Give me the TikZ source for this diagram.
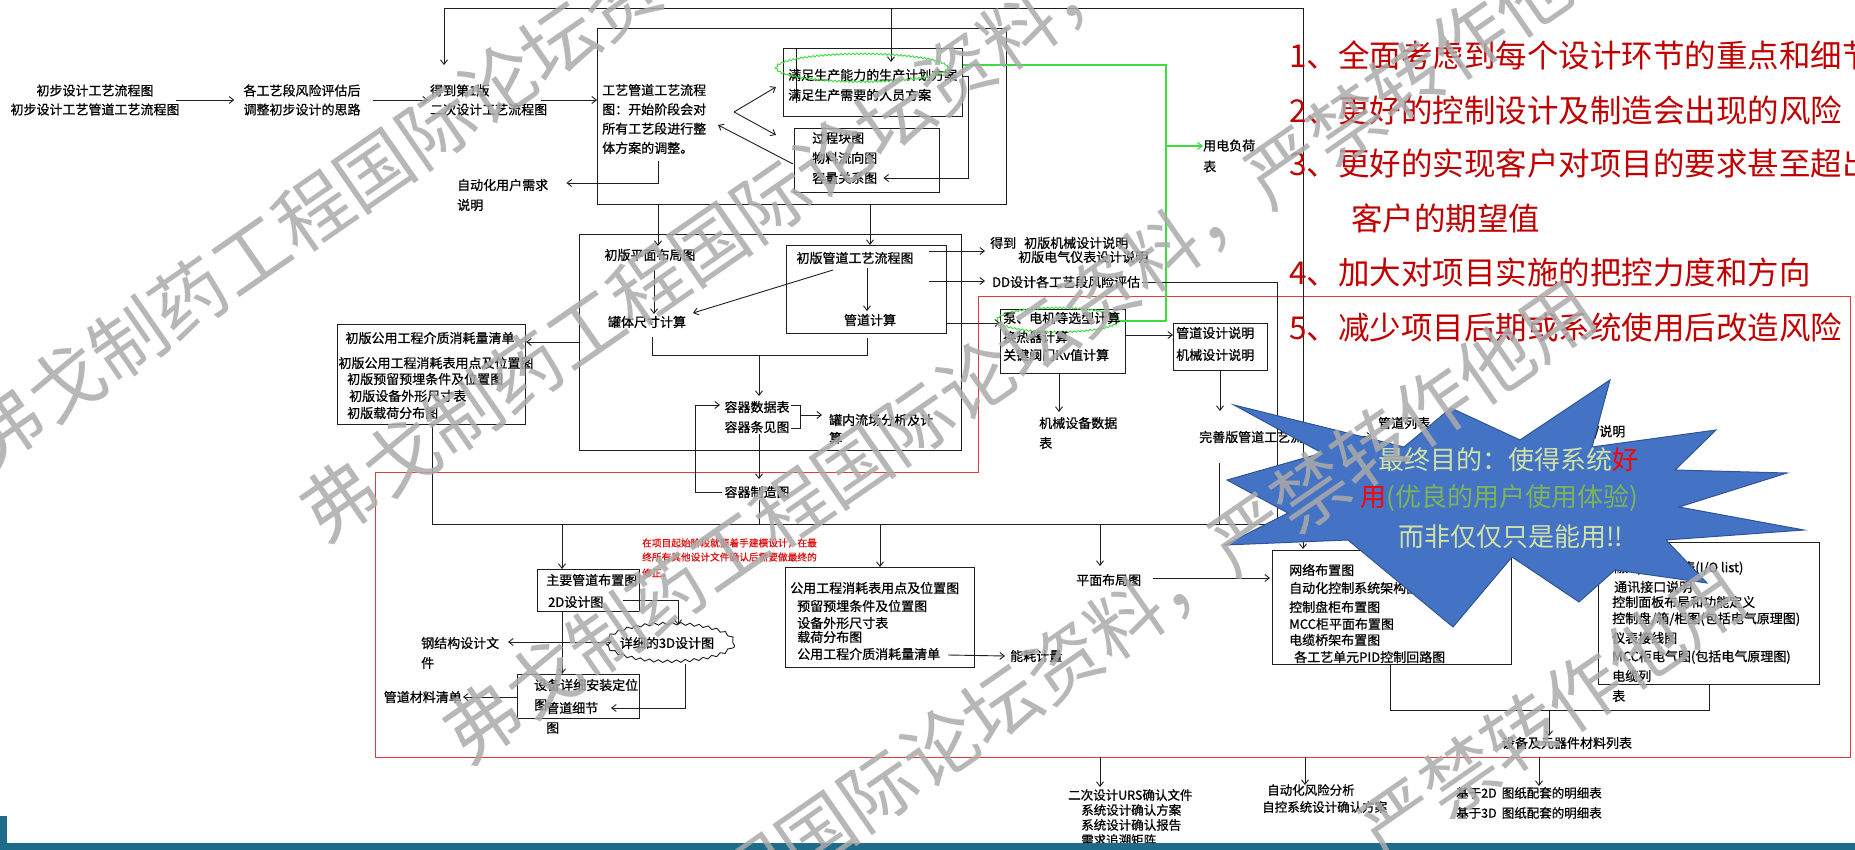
\documentclass[tikz,border=0pt]{standalone}
\usepackage{fontspec}
\setmainfont{Noto Sans CJK SC}
\newfontfamily\cjkb[FakeBold=0.7]{Noto Sans CJK SC}
\usetikzlibrary{arrows.meta,decorations.pathmorphing,shapes.geometric,calc}
\definecolor{lncol}{HTML}{1E1E1E}
\definecolor{redlist}{HTML}{C00000}
\definecolor{redbox}{HTML}{E53935}
\definecolor{rednote}{HTML}{E01010}
\definecolor{grn}{HTML}{3EDC3E}
\definecolor{starfill}{HTML}{4472C4}
\definecolor{starline}{HTML}{2F5597}
\definecolor{startxt}{HTML}{CFE2A6}
\definecolor{stargrn}{HTML}{7DB458}
\definecolor{wmcol}{HTML}{ABABAB}
\definecolor{barcol}{HTML}{1D6D8A}
\newcommand{\fs}{\cjkb\fontsize{13}{19}\selectfont}
\newcommand{\fsb}[1]{\cjkb\fontsize{13}{#1}\selectfont}
\tikzset{
 ln/.style={draw=lncol,line width=0.9pt},
 arr/.style={ln,-{Straight Barb[length=4.5pt,width=7pt]}},
 darr/.style={ln,{Straight Barb[length=4.5pt,width=7pt]}-{Straight Barb[length=4.5pt,width=7pt]}},
 bx/.style={draw=lncol,line width=1.1pt,inner sep=0pt,anchor=north west},
 tx/.style={font=\fs,inner sep=0pt,anchor=west},
 txc/.style={font=\fs,inner sep=0pt,anchor=center},
 gline/.style={draw=grn,line width=1.1pt},
 gcloud/.style={ellipse,draw=grn,line width=0.9pt,inner sep=0pt,decorate,decoration={snake,amplitude=0.8pt,segment length=4pt}},
 bcloud/.style={ellipse,draw=lncol,line width=0.9pt,inner sep=0pt,decorate,decoration={snake,amplitude=1.3pt,segment length=9pt}},
 redl/.style={font=\fontsize{31.5}{38}\selectfont,text=redlist,inner sep=0pt,anchor=west},
 notetx/.style={font=\cjkb\fontsize{9.7}{12}\selectfont,text=rednote,inner sep=0pt,anchor=west},
 wmk/.style={font=\fontsize{75}{75}\selectfont,text=wmcol,opacity=0.85,inner sep=0pt,anchor=center,rotate=34.7},
 sttx/.style={font=\fontsize{26}{30}\selectfont,inner sep=0pt,anchor=west},
}
\begin{document}
\begin{tikzpicture}[x=1pt,y=-1pt]
\useasboundingbox (0,0) rectangle (1855,850);
\clip (0,0) rectangle (1855,850);
\fill[white] (0,0) rectangle (1855,850);

% ---------- boxes ----------
\node[bx,minimum width=409pt,minimum height=176pt] (b1) at (597,28) {};
\node[bx,minimum width=179pt,minimum height=68pt] (s1) at (783,48) {};
\node[bx,minimum width=145pt,minimum height=64pt] (s2) at (794,128) {};
\node[bx,minimum width=382pt,minimum height=216pt] (b2) at (579,234) {};
\node[bx,minimum width=160pt,minimum height=88pt] (s3) at (786,245) {};
\node[bx,minimum width=188pt,minimum height=100pt] (b3) at (337,324) {};
\node[bx,minimum width=125pt,minimum height=64pt] (s4) at (1000,309) {};
\node[bx,minimum width=94pt,minimum height=47pt] (s5) at (1173,323) {};
\node[bx,minimum width=102pt,minimum height=42pt] (m) at (537,569) {};
\node[bx,minimum width=122pt,minimum height=44pt] (d) at (517,674) {};
\node[bx,minimum width=189pt,minimum height=100pt] (u) at (785,567) {};
\node[bx,minimum width=239pt,minimum height=114pt] (n) at (1272,550) {};
\node[bx,minimum width=221pt,minimum height=142pt] (r) at (1598,542) {};

% red frame
\draw[draw=redbox,line width=1pt] (375,472) -- (978,472) -- (978,297) -- (1850,297) -- (1850,757) -- (375,757) -- cycle;

% ---------- top row ----------
\node[txc,align=center] (t1) at (95,100) {初步设计工艺流程图\\初步设计工艺管道工艺流程图};
\node[txc,align=center] (t2) at (302,100) {各工艺段风险评估后\\调整初步设计的思路};
\node[tx,align=left] (t3) at (430,100) {得到第1版\\二次设计工艺流程图};
\draw[arr] ([xshift=-4pt]t1.east) -- ([xshift=-9pt]t2.west);
\draw[arr] ([xshift=12pt]t2.east) -- ([xshift=-2pt]t3.west);
\draw[arr] ([xshift=-6pt]t3.east) -- (b1.west |- t3);

% frame line
\coordinate (f1) at (444,8);
\coordinate (f2) at (1303,8);
\coordinate (f3) at (891,8);
\draw[ln] (f1) -- (f2);
\draw[arr] (f1) -- ++(0,57);
\draw[arr] (f3) -- ++(0,54);
\draw[arr,shorten >=1pt] (f2) -- (f2 |- n.north);

% ---------- B1 contents ----------
\node[tx,align=left,font=\fsb{19.3}] (tb1) at (602,119) {工艺管道工艺流程\\图：开始阶段会对\\所有工艺段进行整\\体方案的调整。};
\node[tx,align=left,font=\fsb{20}] (ta) at (457,195) {自动化用户需求\\说明};
\coordinate (k1) at (658,161);
\draw[arr] (k1) |- ([xshift=18pt]ta.east |- 0,183);
\coordinate (v) at (734,112);
\draw[arr] (v) -- (776,87);
\draw[arr] (v) -- (776,135);
\draw[arr] (793,164) -- (718,125);
\draw[ln] (796,48) -- (796,103);
\node[tx] (s1a) at (788,75) {满足生产能力的生产计划方案};
\node[tx] (s1b) at (788,95) {满足生产需要的人员方案};
\node[gcloud,minimum width=172pt,minimum height=28pt] (c1) at (862,69) {};
\node[tx,align=left,font=\fsb{20}] (s2t) at (812,158) {过程块图\\物料流向图\\容量关系图};
\draw[arr] (s1.east |- 0,76) -- (968,76) -- (968,178) -- ([xshift=6pt]s2t.east |- 0,178);

% green lines
\node[tx,align=left,font=\fsb{21}] (yd) at (1203,156) {用电负荷\\表};
\node[gcloud,minimum width=122pt,minimum height=24pt] (c4) at (1058,321) {};
\draw[gline] (s1.east |- 0,65) -- (1166,65) -- (1166,321) -- (c4.east);
\draw[gline,-{Straight Barb[length=4.5pt,width=7pt]}] (1166,146) -- (yd.west |- 0,146);

% B1 -> B2
\draw[arr] (658,204) -- (658,246);
\draw[arr] (870,204) -- (870,245);

% ---------- B2 contents ----------
\node[txc] (pm) at (650,255) {初版平面布局图};
\node[txc] (gt) at (647,322) {罐体尺寸计算};
\node[txc] (s3a) at (855,258) {初版管道工艺流程图};
\node[txc] (s3b) at (870,320) {管道计算};
\draw[arr] (654,270) -- (654,314);
\draw[arr] (867,268) -- (867,311);
\draw[arr] (833,270) -- (693,313);
\draw[ln] (652,337) -- (652,355) -- (867,355) -- (867,338);
\draw[arr] (759,355) -- (759,396);
\node[txc] (rq1) at (757,407) {容器数据表};
\node[txc] (rq2) at (757,427) {容器条见图};
\draw[ln] (791,405) -- (800,405) -- (800,428) -- (791,428);
\draw[arr] (800,415) -- (822,415);
\node[tx,align=left,font=\fsb{18}] (gl) at (829,429) {罐内流场分析及计\\算};
\draw[arr] (759,434) -- (759,479);
\node[txc] (zz) at (757,492) {容器制造图};
\draw[arr] (722,492) -- (695,492) -- (695,405) -- (720,405);
\draw[ln] (759,500) -- (759,524);
\draw[arr] (b2.west |- 0,342) -- (b3.east |- 0,342);

% B3 text
\node[txc] (b3a) at (430,338) {初版公用工程介质消耗量清单};
\node[txc] (b3b) at (436,363) {初版公用工程消耗表用点及位置图};
\node[tx] (b3c) at (347,379) {初版预留预埋条件及位置图};
\node[tx] (b3d) at (349,396) {初版设备外形尺寸表};
\node[tx] (b3e) at (347,413) {初版载荷分布图};

% S3 outputs
\node[tx] (jx1) at (990,243) {得到\hspace{8pt}初版机械设计说明};
\node[tx] (jx2) at (1018,257) {初版电气仪表设计说明};
\node[tx] (dd) at (992,282) {DD设计各工艺段风险评估};
\draw[arr] (929,251) -- (985,251);
\draw[arr] (929,281) -- (985,281);
\draw[arr] (s3.east |- 0,323) -- (s4.west |- 0,323);
\draw[ln] ([xshift=2pt]dd.east) -- (1277,282) -- (1277,524) -- (432,524) -- (b3.south -| 432,0);

% S4 / S5
\node[tx] (s4a) at (1003,318) {泵、电机等选型计算};
\node[tx] (s4b) at (1003,337) {换热器计算};
\node[tx] (s4c) at (1003,355) {关键阀门Kv值计算};
\node[tx] (s5a) at (1176,333) {管道设计说明};
\node[tx] (s5b) at (1176,355) {机械设计说明};
\draw[arr] (s4.east |- 0,335) -- (s5.west |- 0,335);
\draw[arr] (s4.south -| 1059,0) -- (1059,412);
\node[tx,align=left,font=\fsb{20}] (jxsb) at (1039,433) {机械设备数据\\表};
\draw[arr] (s5.south -| 1220,0) -- (1220,411);
\node[tx] (wsb) at (1199,437) {完善版管道工艺流程图};
\draw[ln] (1219,463) -- (1219,524);
\node[tx] (gdlb) at (1378,423) {管道列表};
\draw[arr] (1340,436) -- (1372,436);
\node[tx] (bsm) at (1568,432) {仪表/说明};

% down arrows from the long line
\draw[arr] (562,524) -- (m.north -| 562,0);
\draw[arr] (880,524) -- (u.north -| 880,0);
\draw[arr] (1100,524) -- (1100,566);

% red note
\node[notetx] (nt1) at (642,543) {在项目起始阶段就要着手建模设计，在最};
\node[notetx] (nt2) at (642,557) {终所有其他设计文件确认后需要做最终的};
\node[notetx] (nt3) at (642,573) {修正。};

% M, D, cloud
\node[tx] (ma) at (546,580) {主要管道布置图};
\node[tx] (mb) at (548,602) {2D设计图};
\node[bcloud,minimum width=128pt,minimum height=38pt] (c3) at (670,645) {};
\node[txc] (c3t) at (667,643) {详细的3D设计图};
\draw[arr] (623,600) -- (678,600) -- (678,625);
\draw[arr] (m.south -| 562,0) -- (d.north -| 562,0);
\node[tx] (gj1) at (421,643) {钢结构设计文};
\node[tx] (gj2) at (421,663) {件};
\draw[darr] (508,642) -- (612,642);
\node[tx] (da) at (534,685) {设备详细安装定位};
\node[tx] (db) at (534,705) {图};
\node[tx] (dc) at (546,708) {管道细节};
\node[tx] (dd2) at (546,728) {图};
\draw[arr] (685,664) -- (685,708) -- (611,708);
\node[tx,anchor=east] (gdcl) at (462,697) {管道材料清单};
\draw[arr] (d.west |- 0,697) -- ([xshift=1pt]gdcl.east);

% U box
\node[tx] (ua) at (790,588) {公用工程消耗表用点及位置图};
\node[tx] (ub) at (797,606) {预留预埋条件及位置图};
\node[tx] (uc) at (797,623) {设备外形尺寸表};
\node[tx] (ud) at (797,637) {载荷分布图};
\node[tx] (ue) at (797,654) {公用工程介质消耗量清单};
\node[tx] (nh) at (1010,656) {能耗计量};
\draw[arr] (948,655) -- ([xshift=-5pt]nh.west);

% plan
\node[tx] (pmbj) at (1076,580) {平面布局图};
\draw[arr] (1153,578) -- ([xshift=-2pt]n.west |- 0,578);

% N box
\node[tx] (na) at (1289,570) {网络布置图};
\node[tx] (nb) at (1289,588) {自动化控制系统架构图};
\node[tx] (nc) at (1289,607) {控制盘柜布置图};
\node[tx] (nd) at (1289,624) {MCC柜平面布置图};
\node[tx] (ne) at (1289,640) {电缆桥架布置图};
\node[tx] (nf) at (1294,657) {各工艺单元PID控制回路图};

% R box
\node[tx] (ra) at (1612,553) {仪表清单};
\node[tx] (rb) at (1612,568) {输入/输出点表(I/O list)};
\node[tx] (rc) at (1614,587) {通讯接口说明};
\node[tx] (rd) at (1612,602) {控制面板布局和功能定义};
\node[tx] (re) at (1612,619) {控制盘/箱/柜图(包括电气原理图)};
\node[tx] (rf) at (1612,638) {仪表接线图};
\node[tx] (rg) at (1612,657) {MCC柜电气图(包括电气原理图)};
\node[tx] (rh) at (1612,676) {电缆列};
\node[tx] (ri) at (1612,696) {表};

\draw[ln] (n.south -| 1390,0) -- (1390,710) -- (1709,710) -- (r.south -| 1709,0);
\draw[arr] (1549,710) -- (1549,736);
\node[txc] (sb) at (1567,743) {设备及元器件材料列表};

% below red frame
\draw[arr] (1100,757) -- (1100,787);
\draw[arr] (1305,757) -- (1305,785);
\draw[arr] (1539,757) -- (1539,786);
\node[tx,font=\cjkb\fontsize{12.5}{15}\selectfont] (ua1) at (1068,795) {二次设计URS确认文件};
\node[tx,font=\cjkb\fontsize{12.5}{15}\selectfont] (ua2) at (1081,810) {系统设计确认方案};
\node[tx,font=\cjkb\fontsize{12.5}{15}\selectfont] (ua3) at (1081,825) {系统设计确认报告};
\node[tx,font=\cjkb\fontsize{12.5}{15}\selectfont] (ua4) at (1081,840) {需求追溯矩阵};
\node[tx,font=\cjkb\fontsize{12.5}{15}\selectfont] (ub1) at (1267,790) {自动化风险分析};
\node[tx,font=\cjkb\fontsize{12.5}{15}\selectfont] (ub2) at (1262,807) {自控系统设计确认方案};
\node[tx,font=\cjkb\fontsize{12.5}{15}\selectfont] (uc1) at (1456,793) {基于2D\hspace{5pt}图纸配套的明细表};
\node[tx,font=\cjkb\fontsize{12.5}{15}\selectfont] (uc2) at (1456,813) {基于3D\hspace{5pt}图纸配套的明细表};

% red list
\node[redl] (l1) at (1289,55) {1、全面考虑到每个设计环节的重点和细节};
\node[redl] (l2) at (1289,110) {2、更好的控制设计及制造会出现的风险};
\node[redl] (l3) at (1289,163) {3、更好的实现客户对项目的要求甚至超出};
\node[redl] (l3b) at (1351,218) {客户的期望值};
\node[redl] (l4) at (1289,272) {4、加大对项目实施的把控力度和方向};
\node[redl] (l5) at (1289,327) {5、减少项目后期或系统使用后改造风险};

% star burst
\filldraw[fill=starfill,draw=starline,line width=1pt]
 (1234,405) -- (1404,447) -- (1451,408) -- (1520,440) -- (1610,380) -- (1592,447)
 -- (1716,430) -- (1675,470) -- (1787,473) -- (1679,507) -- (1804,530) -- (1666,540)
 -- (1707,583) -- (1615,570) -- (1579,602) -- (1512,557) -- (1453,627) -- (1348,540)
 -- (1225,545) -- (1288,513) -- (1227,480) -- (1322,453) -- cycle;
\node[sttx] (st1) at (1378,460) {\textcolor{startxt}{最终目的：使得系统}\textcolor{red}{好}};
\node[sttx] (st2) at (1360,498) {\textcolor{red}{用}\textcolor{stargrn}{(优良的用户使用体验)}};
\node[sttx] (st3) at (1398,537) {\textcolor{startxt}{而非仅仅只是能用!!}};

% bottom bar
\fill[barcol] (0,843) rectangle (1855,850);
\fill[barcol] (0,816) rectangle (7,850);

% watermark
\node[wmk] (w1) at (560,42) {弗戈制药工程国际论坛资料，严禁转作他用};
\node[wmk] (w2) at (895,116) {弗戈制药工程国际论坛资料，严禁转作他用};
\node[wmk] (w3) at (1038,338) {弗戈制药工程国际论坛资料，严禁转作他用};
\node[wmk] (w4) at (1002,705) {弗戈制药工程国际论坛资料，严禁转作他用};
\node[wmk] (w5) at (1152,990) {弗戈制药工程国际论坛资料，严禁转作他用};
\end{tikzpicture}
\end{document}
